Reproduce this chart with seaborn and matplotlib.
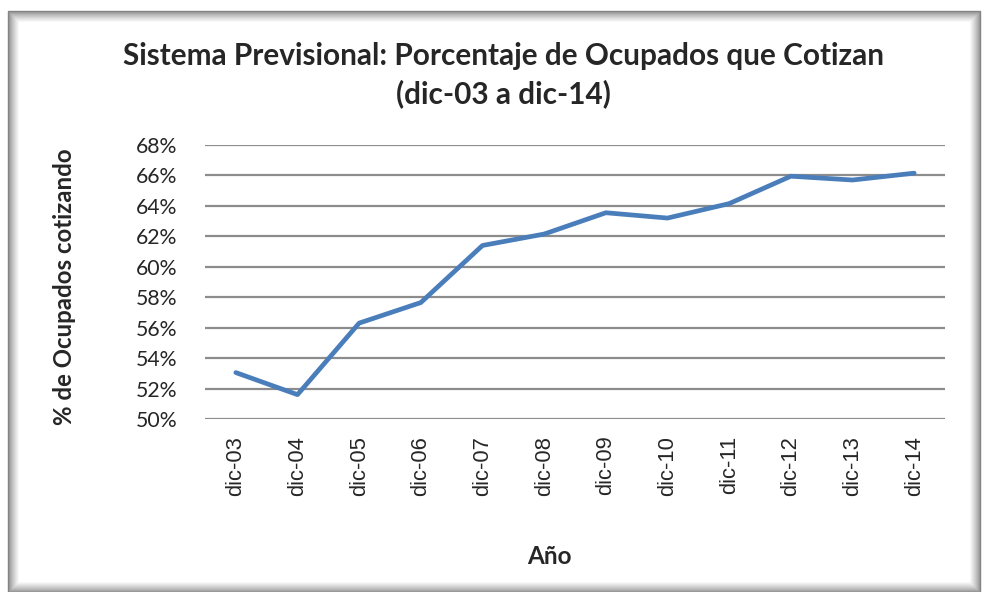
import matplotlib
matplotlib.use("Agg")
import matplotlib.pyplot as plt
import seaborn as sns
import pandas as pd
from matplotlib.patches import Rectangle
from matplotlib.ticker import FuncFormatter

categories = ["dic-03", "dic-04", "dic-05", "dic-06", "dic-07", "dic-08",
              "dic-09", "dic-10", "dic-11", "dic-12", "dic-13", "dic-14"]
values = [53.05, 51.6, 56.3, 57.65, 61.4, 62.15, 63.55, 63.2, 64.15, 65.95, 65.7, 66.15]
y_ticks = [50, 52, 54, 56, 58, 60, 62, 64, 66, 68]

title_text = "Sistema Previsional: Porcentaje de Ocupados que Cotizan\n(dic-03 a dic-14)"
x_label = "Año"
y_label = "% de Ocupados cotizando"

sns.set_style("white")
plt.rcParams["font.family"] = ["Lato", "DejaVu Sans"]

W, H = 984, 592
fig = plt.figure(figsize=(W / 100, H / 100), dpi=100)
fig.patch.set_facecolor("white")

# frame with inner shadow
L, T, R, B = 8, 11, 980, 592
for i in range(12):
    g = 0.5 + 0.5 * (i / 11) ** 0.7
    fig.add_artist(Rectangle(((L + i) / W, 1 - (B - i) / H), (R - L - 2 * i) / W, (B - T - 2 * i) / H,
                             transform=fig.transFigure, fill=False, edgecolor=(g, g, g), linewidth=1.0))

ax = fig.add_axes([205 / W, 1 - 419 / H, 740 / W, 274 / H])
df = pd.DataFrame({"cat": categories, "val": values})
sns.lineplot(data=df, x="cat", y="val", ax=ax, color="#4A7EBB", linewidth=3.4, sort=False)

ax.set_xlim(-0.5, len(categories) - 0.5)
ax.set_ylim(y_ticks[0], y_ticks[-1])
ax.set_yticks(y_ticks)
ax.yaxis.set_major_formatter(FuncFormatter(lambda v, p: f"{v:.0f}%"))
ax.grid(axis="y", color="#8C8C8C", linewidth=1.6)
ax.grid(axis="x", visible=False)
for s in ax.spines.values():
    s.set_visible(False)
ax.tick_params(axis="y", length=0, pad=20, labelsize=15.3)
ax.tick_params(axis="x", length=0, pad=12)
ax.set_xticks(range(len(categories)))
ax.set_xticklabels(categories, rotation=90, fontsize=15.8, family=["Liberation Sans"])
ax.set_xlabel("")
ax.set_ylabel("")

fig.text(503 / W, 1 - 75 / H, title_text, ha="center", va="center", fontsize=21.4,
         fontweight="bold", linespacing=1.35)
fig.text(549 / W, 1 - 557 / H, x_label, ha="center", va="center", fontsize=17.5, fontweight="bold")
fig.text(65 / W, 1 - 287 / H, y_label, ha="center", va="center", fontsize=17.3, fontweight="bold",
         rotation=90)

fig.savefig("out.png", dpi=100)
